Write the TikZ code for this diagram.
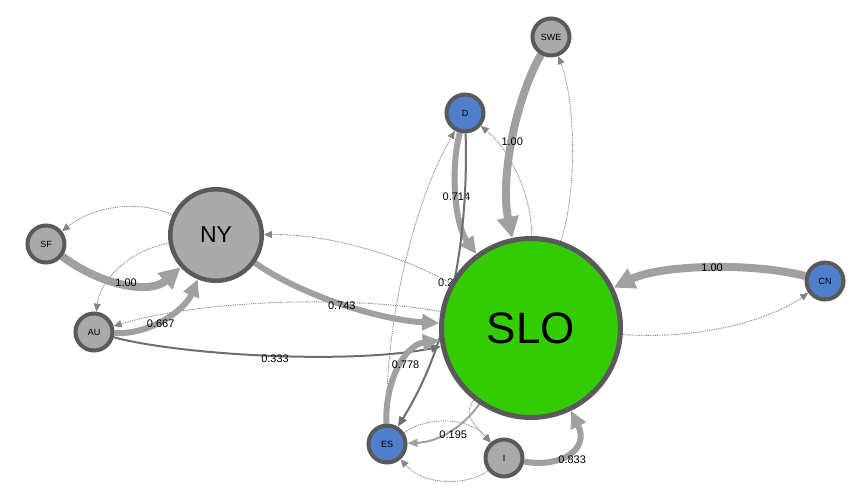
\documentclass[tikz,border=0pt]{standalone}
\usepackage{fontspec}
\setmainfont{Liberation Sans}
\usetikzlibrary{arrows.meta}
\pgfdeclarelayer{edges}
\pgfsetlayers{edges,main}
\definecolor{nodegray}{HTML}{A9A9A9}
\definecolor{nodeblue}{HTML}{4F7FCB}
\definecolor{nodegreen}{HTML}{33CC00}
\definecolor{rim}{HTML}{5A5A5A}
\definecolor{edgelight}{HTML}{A0A0A0}
\definecolor{edgedark}{HTML}{6E6E6E}
\definecolor{edgedot}{HTML}{858585}
\begin{document}
\begin{tikzpicture}[x=1pt,y=-1pt,
  vtx/.style={circle,draw=rim,line width=4pt,minimum size=37pt,inner sep=0pt,font=\fontsize{9}{9}\selectfont},
  gnode/.style={vtx,fill=nodegray},
  bnode/.style={vtx,fill=nodeblue},
  heavy/.style={draw=edgelight,line width=8pt,-{Triangle[length=21pt,width=21pt]}},
  medium/.style={draw=edgelight,line width=6pt,-{Triangle[length=17pt,width=16pt]}},
  darkedge/.style={draw=edgedark,line width=2pt,-{Triangle[length=10pt,width=8pt]}},
  lightthin/.style={draw=edgelight,line width=2pt,-{Triangle[length=10pt,width=8pt]}},
  dotedge/.style={draw=edgedot,line width=0.9pt,dash pattern=on 0.9pt off 0.9pt,-{Triangle[length=8pt,width=7pt]}},
  lab/.style={font=\fontsize{11}{11}\selectfont,inner sep=0pt,text=black}
]
\useasboundingbox (0,0) rectangle (861,494);

% nodes
\node[gnode] (swe) at (551,37) {SWE};
\node[bnode] (d) at (465,113) {D};
\node[gnode,line width=4.5pt,minimum size=91.5pt,font=\fontsize{23}{23}\selectfont] (ny) at (216,235) {NY};
\node[gnode] (sf) at (46,244) {SF};
\node[gnode] (au) at (94,332) {AU};
\node[vtx,fill=nodegreen,line width=5pt,minimum size=179pt,font=\fontsize{44}{44}\selectfont] (slo) at (531,328) {SLO};
\node[bnode] (cn) at (825,281) {CN};
\node[bnode] (es) at (387,444) {ES};
\node[gnode] (i) at (504,458) {I};

\begin{pgfonlayer}{edges}
\fill[white] (0,0) rectangle (861,494);
% dotted return edges
\draw[dotedge] (ny) .. controls (140,200) and (95,205) .. (sf);
\draw[dotedge] (ny) .. controls (130,250) and (100,280) .. (au);
\draw[dotedge] (slo) .. controls (350,295) and (200,300) .. (au);
\draw[dotedge] (slo) .. controls (400,255) and (330,234) .. (ny);
\draw[dotedge] (slo) .. controls (578,190) and (575,100) .. (swe);
\draw[dotedge] (slo) .. controls (532,195) and (510,150) .. (d);
\draw[dotedge] (es) .. controls (385,330) and (410,210) .. (d);
\draw[dotedge] (es) .. controls (430,415) and (470,418) .. (i);
\draw[dotedge] (i) .. controls (470,485) and (425,487) .. (es);
\draw[dotedge] (slo) .. controls (462,415) and (475,425) .. (i);
\draw[dotedge] (slo) .. controls (700,340) and (770,320) .. (cn);

% weighted edges
\draw[heavy] (sf) .. controls (100,285) and (150,295) .. node[lab,pos=0.5,xshift=2pt] {1.00} (ny);
\draw[medium] (au) .. controls (150,335) and (185,310) .. node[lab,pos=0.5,xshift=-4pt,yshift=-5pt] {0.667} (ny);
\draw[darkedge] (au) .. controls (180,355) and (350,365) .. node[lab,pos=0.5,xshift=7pt,yshift=-3pt] {0.333} (slo);
\draw[medium] (ny) .. controls (300,295) and (380,320) .. node[lab,pos=0.5,yshift=-2pt] {0.743} (slo);
\draw[heavy] (swe) .. controls (515,100) and (500,180) .. node[lab,pos=0.5] {1.00} (slo);
\draw[medium] (d) .. controls (450,170) and (455,225) .. node[lab,pos=0.5] {0.714} (slo);
\draw[darkedge] (d) .. controls (468,215) and (458,330) .. node[lab,pos=0.5,anchor=west,xshift=-18pt,yshift=-8pt] {0.2} (es);
\draw[medium] (es) .. controls (385,380) and (405,345) .. node[lab,pos=0.5,xshift=6pt,yshift=3pt] {0.778} (slo);
\draw[lightthin] (slo) .. controls (465,425) and (440,442) .. node[lab,pos=0.5,xshift=3pt,yshift=-4pt] {0.195} (es);
\draw[medium] (i) .. controls (560,468) and (590,450) .. node[lab,pos=0.5,xshift=4pt,yshift=-6pt] {0.833} (slo);
\draw[heavy] (cn) .. controls (750,262) and (660,265) .. node[lab,pos=0.5,xshift=6pt] {1.00} (slo);
\end{pgfonlayer}
\end{tikzpicture}
\end{document}
